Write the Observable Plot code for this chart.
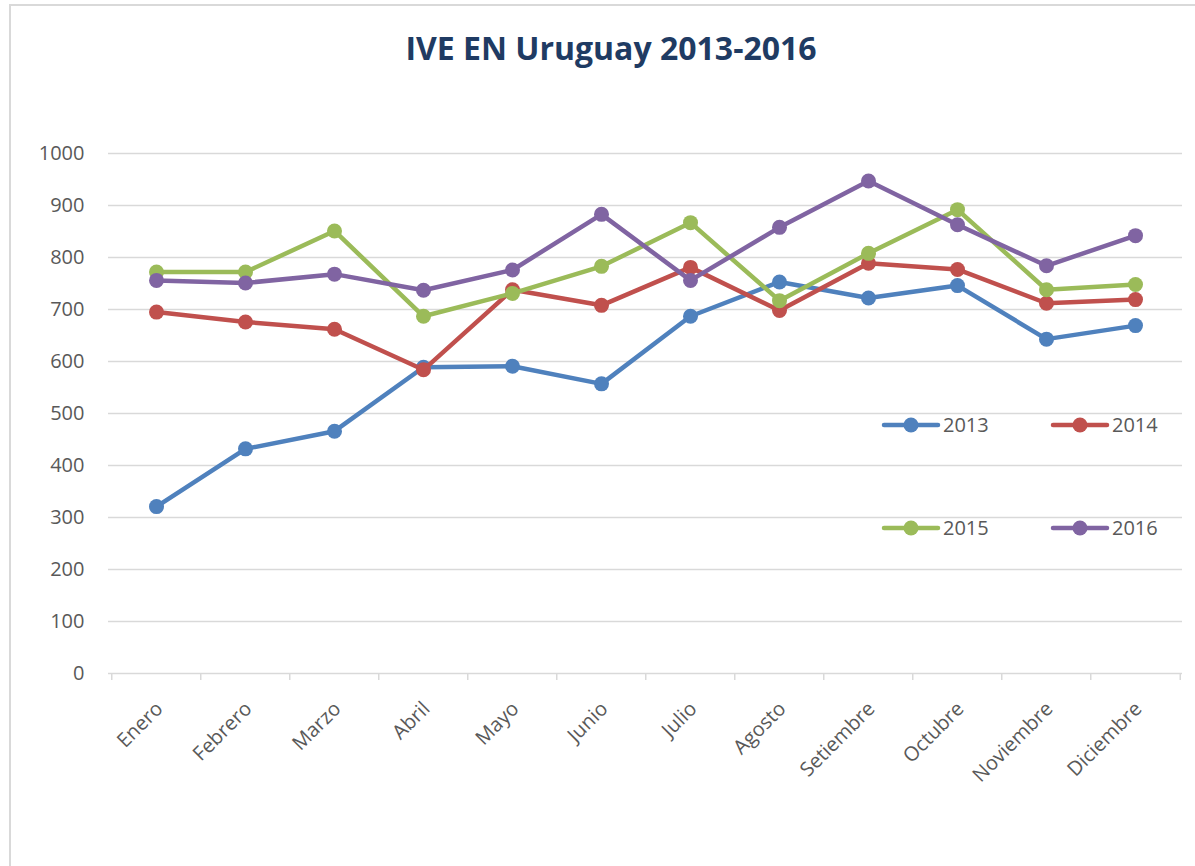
<!DOCTYPE html>
<html>
<head>
<meta charset="utf-8">
<script src="https://cdn.jsdelivr.net/npm/d3@7"></script>
<script src="https://cdn.jsdelivr.net/npm/@observablehq/plot@0.6"></script>
<style>
  html, body { margin: 0; padding: 0; background: #fff; }
  #wrap { position: relative; width: 1195px; height: 866px; overflow: hidden; background: #fff; }
  #border { position: absolute; left: 9px; top: 4px; width: 1300px; height: 1000px; border-left: 2px solid #d9d9d9; border-top: 2px solid #d9d9d9; box-sizing: border-box; }
  #title { position: absolute; left: 0; width: 1222px; top: 26px; text-align: center; font-family: "Open Sans", sans-serif; font-weight: 700; font-size: 32px; color: #1F3B63; line-height: 44px; }
  #chart { position: absolute; left: 0; top: 0; }
  #legend { position: absolute; left: 0; top: 0; }
</style>
</head>
<body>
<div id="wrap">
  <div id="border"></div>
  <div id="chart"></div>
  <div id="title">IVE EN Uruguay 2013-2016</div>
  <svg id="legend" width="1195" height="866"></svg>
</div>
<script>
const months = ["Enero","Febrero","Marzo","Abril","Mayo","Junio","Julio","Agosto","Setiembre","Octubre","Noviembre","Diciembre"];
const seriesNames = ["2013","2014","2015","2016"];
const seriesColors = ["#4F81BD","#C0504D","#9BBB59","#8064A2"];
const v2013 = [321, 432, 466, 589, 591, 557, 687, 753, 722, 746, 643, 669];
const v2014 = [695, 676, 662, 584, 738, 708, 781, 698, 789, 777, 712, 719];
const v2015 = [772, 772, 851, 687, 731, 783, 867, 717, 808, 892, 738, 748];
const v2016 = [756, 751, 768, 737, 776, 883, 756, 858, 947, 863, 784, 842];
const yTicks = [0,100,200,300,400,500,600,700,800,900,1000];

const values = [v2013, v2014, v2015, v2016];
const rows = values.flatMap((arr, si) => arr.map((v, i) => ({month: months[i], value: v, series: seriesNames[si]})));

const W = 1195, H = 866, ML = 108, MR = 13, MT = 153, MB = 193;
const step = (W - ML - MR) / months.length;
const grid = "#d9d9d9";
const txt = "#595959";

const seriesMarks = seriesNames.flatMap((s, si) => {
  const d = rows.filter(r => r.series === s);
  return [
    Plot.line(d, {x: "month", y: "value", stroke: seriesColors[si], strokeWidth: 4.5, strokeLinejoin: "round", strokeLinecap: "round"}),
    Plot.dot(d, {x: "month", y: "value", r: 7.5, fill: seriesColors[si], stroke: "none"})
  ];
});

const chart = Plot.plot({
  width: W, height: H,
  marginLeft: ML, marginRight: MR, marginTop: MT, marginBottom: MB,
  style: {fontFamily: "'Open Sans', sans-serif", fontSize: "20px", color: txt, background: "transparent", overflow: "visible"},
  x: {type: "point", domain: months, padding: 0.5, label: null},
  y: {domain: [0, 1000], label: null},
  marks: [
    Plot.gridY(yTicks, {stroke: grid, strokeOpacity: 1, strokeWidth: 1.6}),
    Plot.axisX({tickSize: 7, text: null, dx: -step / 2, stroke: grid, strokeWidth: 1.5, strokeOpacity: 1}),
    Plot.axisX([months[months.length - 1]], {tickSize: 7, text: null, dx: step / 2, stroke: grid, strokeWidth: 1.5, strokeOpacity: 1}),
    Plot.axisY(yTicks, {tickSize: 0, tickPadding: 24, fontSize: 20, fill: txt, label: null, tickFormat: d => String(d)}),
    Plot.axisX({tickSize: 0, tickRotate: -45, tickPadding: 32, dx: 3, fontSize: 20, fill: txt, label: null}),
    ...seriesMarks
  ]
});
document.getElementById("chart").appendChild(chart);

// legend (2 x 2, inside plot area)
const lg = d3.select("#legend");
const legendPos = [[884, 425], [1053, 425], [884, 528], [1053, 528]];
seriesNames.forEach((s, i) => {
  const [x0, y0] = legendPos[i];
  const g = lg.append("g").attr("transform", `translate(${x0},${y0})`);
  g.append("line").attr("x1", 0).attr("x2", 54).attr("y1", 0).attr("y2", 0)
    .attr("stroke", seriesColors[i]).attr("stroke-width", 4.5).attr("stroke-linecap", "round");
  g.append("circle").attr("cx", 27).attr("cy", 0).attr("r", 7.5).attr("fill", seriesColors[i]);
  g.append("text").attr("x", 59).attr("y", 0).attr("dy", "0.35em")
    .attr("font-family", "'Open Sans', sans-serif").attr("font-size", 20).attr("fill", txt).text(s);
});
</script>
</body>
</html>
